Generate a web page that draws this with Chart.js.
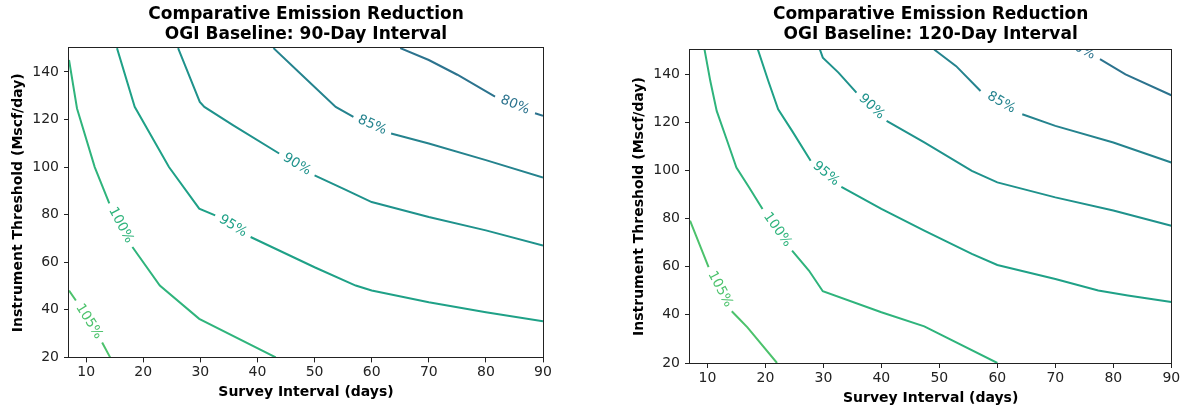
<!DOCTYPE html>
<html>
<head>
<meta charset="utf-8">
<script src="https://cdn.jsdelivr.net/npm/chart.js@4.4.1/dist/chart.umd.min.js"></script>
<style>
  html, body { margin: 0; padding: 0; background: #fff; }
  body { width: 1183px; height: 410px; position: relative; overflow: hidden; }
  .box { position: absolute; top: 0; height: 410px; }
  #leftBox { left: 0; width: 560px; }
  #rightBox { left: 600px; width: 583px; }
</style>
</head>
<body>
<div class="box" id="leftBox"><canvas id="chart90"></canvas></div>
<div class="box" id="rightBox"><canvas id="chart120"></canvas></div>
<script>
// contour levels (percent) and their line colours (viridis-like)
const levels = [80, 85, 90, 95, 100, 105];
const levelColors = ['#2c738e', '#25838e', '#1f928c', '#1fa187', '#2fb47c', '#4cc26c'];
const xTicks = [10, 20, 30, 40, 50, 60, 70, 80, 90];
const yTicks = [20, 40, 60, 80, 100, 120, 140];

// 90-day baseline: [survey interval, threshold], null = gap where the label sits
const base90_80 = [[65, 150], [70, 145], [75, 138.8], [81.6, 129.6], null, [88.6, 122.6], [90, 121.6]];
const base90_85 = [[42.8, 150], [48.1, 138], [53.7, 125.3], [56.8, 121.1], null, [63.4, 114.1], [70, 109.9], [80, 102.9], [90, 95.6]];
const base90_90 = [[26.1, 150], [29.9, 127.4], [30.7, 125.3], [35.7, 117.6], [43.8, 105.7], null, [50, 96.5], [55, 90.9], [60, 85.3], [70, 79], [80, 73.4], [90, 67]];
const base90_95 = [[15.4, 150], [18.5, 125.3], [24.5, 100], [29.8, 82.5], [32.6, 79.7], null, [38.8, 70.6], [50, 57.9], [57.2, 50.2], [60, 48.1], [70, 43.2], [80, 39], [90, 35.2]];
const base90_100 = [[7, 145], [8.4, 124.6], [11.5, 100], [14.05, 84.7], null, [18.1, 66.4], [22.9, 50.2], [29.8, 36.2], [43.2, 20]];
const base90_105 = [[7, 48.1], [8.2, 43.9], null, [12.8, 26.3], [14.2, 20]];

// 120-day baseline
const base120_80 = [[71.1, 154.6], null, [77.7, 146.2], [82.1, 139.9], [90, 131.2]];
const base120_85 = [[49.1, 150.2], [52.9, 143.3], [57.1, 133], null, [64.3, 123.3], [70, 118.5], [80, 111.6], [90, 103.3]];
const base120_90 = [[29.4, 150.2], [29.9, 146.8], [32.6, 140.6], [35.7, 132.3], null, [40.9, 120.6], [47.4, 111.6], [55.6, 99.8], [60, 95], [70, 88.8], [80, 83.3], [90, 77]];
const base120_95 = [[18.7, 150.2], [20.5, 137.1], [22.2, 125.4], [24.6, 116.4], [27.8, 104], null, [33.1, 93.2], [40, 84], [47.4, 75], [55.6, 65.3], [60, 60.7], [70, 54.9], [77.4, 50.1], [82.5, 48], [90, 45.3]];
const base120_100 = [[9.5, 150.2], [10.5, 137.1], [11.6, 124.7], [13.4, 112.3], [15, 101.2], [17.2, 92.9], [19.5, 84], null, [24.6, 66.7], [27.5, 58.4], [29.9, 49.8], [40, 41.1], [47.4, 35.2], [60, 20]];
const base120_105 = [[7, 79.1], [10.2, 59.8], null, [14.2, 41.5], [15.5, 38.3], [16.9, 34.8], [22, 20]];

Chart.defaults.font.family = '"DejaVu Sans", sans-serif';
Chart.defaults.color = '#222';

// draws the inline "NN%" labels in each gap and the four spines
const contourLabels = {
  id: 'contourLabels',
  afterDatasetsDraw(chart) {
    const {ctx, chartArea, scales} = chart;
    const xs = scales.x, ys = scales.y;
    ctx.save();
    ctx.beginPath();
    ctx.rect(chartArea.left, chartArea.top, chartArea.right - chartArea.left, chartArea.bottom - chartArea.top);
    ctx.clip();
    ctx.font = '13.5px "DejaVu Sans"';
    ctx.textAlign = 'center';
    ctx.textBaseline = 'middle';
    chart.data.datasets.forEach(ds => {
      const pts = ds.raw;
      for (let i = 1; i < pts.length - 1; i++) {
        if (pts[i] !== null) continue;
        const ax = xs.getPixelForValue(pts[i - 1][0]), ay = ys.getPixelForValue(pts[i - 1][1]);
        const bx = xs.getPixelForValue(pts[i + 1][0]), by = ys.getPixelForValue(pts[i + 1][1]);
        let ang = Math.atan2(by - ay, bx - ax);
        if (ang > Math.PI / 2) ang -= Math.PI;
        if (ang < -Math.PI / 2) ang += Math.PI;
        ctx.save();
        ctx.translate((ax + bx) / 2, (ay + by) / 2);
        ctx.rotate(ang);
        ctx.fillStyle = ds.borderColor;
        ctx.fillText(ds.label, 0, 0);
        ctx.restore();
      }
    });
    ctx.restore();

    ctx.save();
    ctx.strokeStyle = '#222';
    ctx.lineWidth = 1;
    const l = Math.round(chartArea.left) - 0.5, t = Math.round(chartArea.top) - 0.5;
    const r = Math.round(chartArea.right) + 0.5, b = Math.round(chartArea.bottom) + 0.5;
    ctx.strokeRect(l, t, r - l, b - t);
    ctx.restore();
  }
};

function makeChart(canvasId, titleText, contours, pad) {
  const datasets = contours.map((arr, k) => ({
    label: levels[k] + '%',
    raw: arr,
    data: arr.map(p => p === null ? {x: null, y: null} : {x: p[0], y: p[1]}),
    borderColor: levelColors[k],
    borderWidth: 2,
    pointRadius: 0,
    fill: false,
    tension: 0,
    spanGaps: false,
    clip: 0
  }));

  return new Chart(document.getElementById(canvasId), {
    type: 'line',
    data: {datasets: datasets},
    options: {
      responsive: true,
      maintainAspectRatio: false,
      animation: false,
      events: [],
      layout: {padding: {left: pad.left, right: pad.right, top: 0, bottom: pad.bottom}},
      plugins: {
        legend: {display: false},
        tooltip: {enabled: false},
        title: {
          display: true,
          text: titleText,
          fullSize: false,
          color: '#000',
          font: {size: 17, weight: 'bold', lineHeight: 1.15},
          padding: {top: 5, bottom: pad.titleBottom}
        }
      },
      scales: {
        x: {
          type: 'linear',
          min: 7,
          max: 90,
          afterBuildTicks: axis => { axis.ticks = xTicks.map(v => ({value: v})); },
          grid: {drawOnChartArea: false, tickLength: 5, color: '#222'},
          border: {display: false},
          ticks: {color: '#222', font: {size: 14}, padding: 2, maxRotation: 0, autoSkip: false},
          title: {display: true, text: 'Survey Interval (days)', color: '#000', font: {size: 14, weight: 'bold'}, padding: {top: 1, bottom: 2}}
        },
        y: {
          type: 'linear',
          min: 20,
          max: 150,
          afterBuildTicks: axis => { axis.ticks = yTicks.map(v => ({value: v})); },
          grid: {drawOnChartArea: false, tickLength: 5, color: '#222'},
          border: {display: false},
          ticks: {color: '#222', font: {size: 14}, padding: 5, autoSkip: false},
          title: {display: true, text: 'Instrument Threshold (Mscf/day)', color: '#000', font: {size: 14, weight: 'bold'}, padding: {top: 3, bottom: 1}}
        }
      }
    },
    plugins: [contourLabels]
  });
}

makeChart('chart90', ['Comparative Emission Reduction', 'OGI Baseline: 90-Day Interval'],
  [base90_80, base90_85, base90_90, base90_95, base90_100, base90_105],
  {left: 6.5, right: 17, bottom: 7, titleBottom: 4});

makeChart('chart120', ['Comparative Emission Reduction', 'OGI Baseline: 120-Day Interval'],
  [base120_80, base120_85, base120_90, base120_95, base120_100, base120_105],
  {left: 27.5, right: 11.7, bottom: 1.4, titleBottom: 5.9});
</script>
</body>
</html>
